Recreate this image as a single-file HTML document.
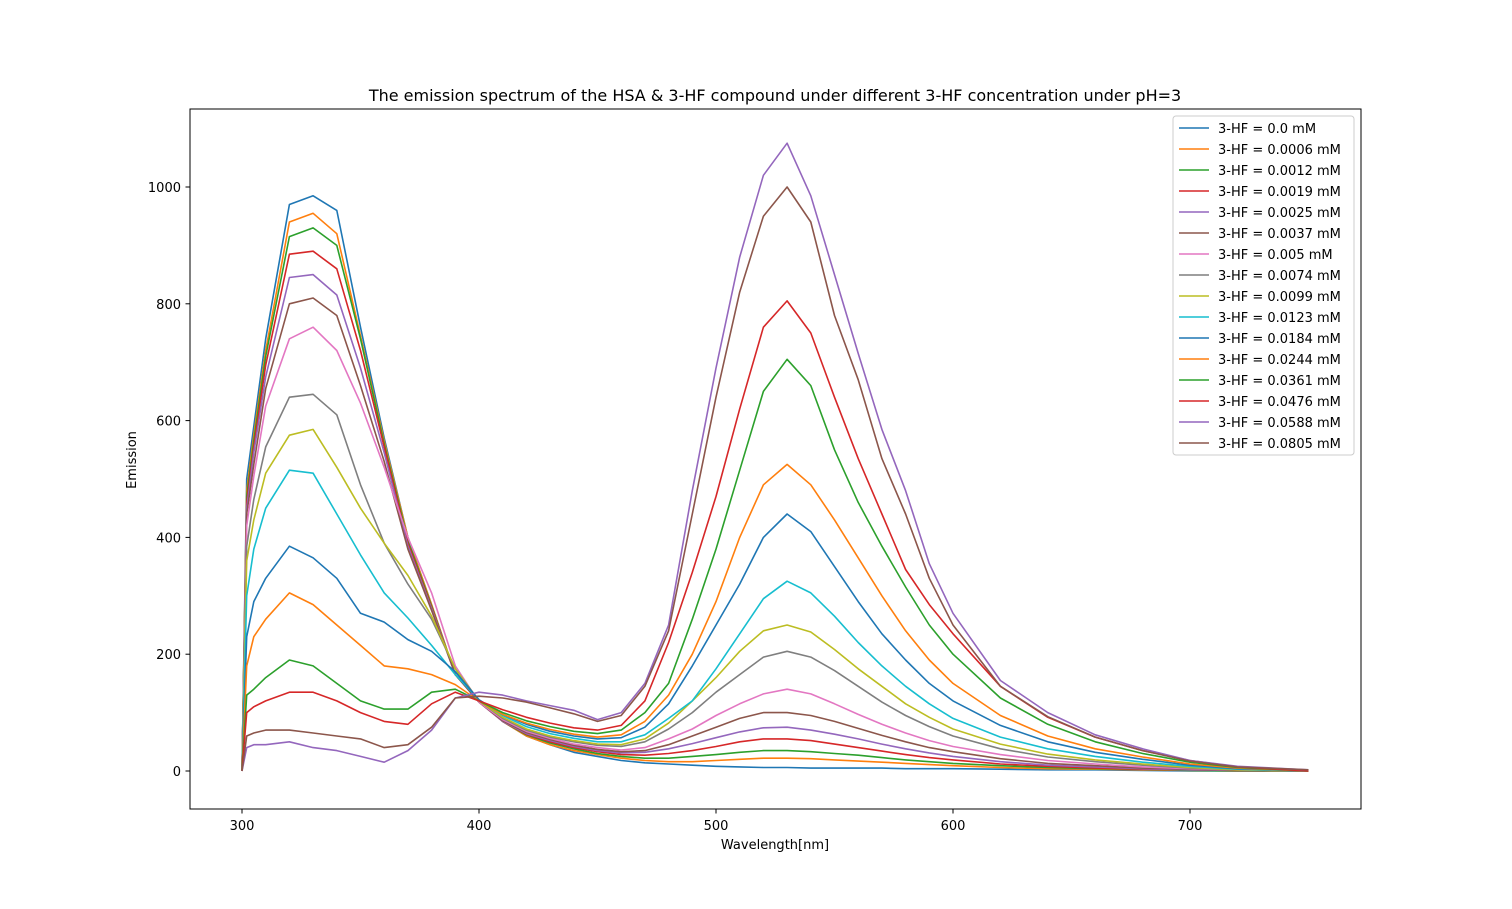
<!DOCTYPE html>
<html><head><meta charset="utf-8"><style>
html,body{margin:0;padding:0;background:#fff;}
svg{display:block;font-family:"DejaVu Sans","Liberation Sans",sans-serif;}
</style></head><body>
<svg id="chart" width="1512" height="909" viewBox="0 0 1512 909" xmlns="http://www.w3.org/2000/svg">
<rect x="0" y="0" width="1512" height="909" fill="#fff"/>
<text x="775" y="101" text-anchor="middle" font-size="16">The emission spectrum of the HSA &amp; 3-HF compound under different 3-HF concentration under pH=3</text>
<text x="775" y="849" text-anchor="middle" font-size="13">Wavelength[nm]</text>
<text transform="translate(136,460) rotate(-90)" text-anchor="middle" font-size="13">Emission</text>
<g id="series"></g>
<g id="axes"></g>
<g id="legend"></g>
<rect x="190" y="109" width="1171" height="700" fill="none" stroke="#000" stroke-width="1"/>
</svg>
<script>
const wavelengths=[300,302,305,310,320,330,340,350,360,370,380,390,400,410,420,430,440,450,460,470,480,490,500,510,520,530,540,550,560,570,580,590,600,620,640,660,680,700,720,750];
const labels=["3-HF = 0.0 mM","3-HF = 0.0006 mM","3-HF = 0.0012 mM","3-HF = 0.0019 mM","3-HF = 0.0025 mM","3-HF = 0.0037 mM","3-HF = 0.005 mM","3-HF = 0.0074 mM","3-HF = 0.0099 mM","3-HF = 0.0123 mM","3-HF = 0.0184 mM","3-HF = 0.0244 mM","3-HF = 0.0361 mM","3-HF = 0.0476 mM","3-HF = 0.0588 mM","3-HF = 0.0805 mM"];
const s0=[0,500,590,740,970,985,960,760,570,400,285,165,120,85,60,45,32,25,18,14,12,10,8,7,6,6,5,5,5,5,4,4,4,3,2,2,1,0,0,0];
const s1=[0,480,575,720,940,955,920,745,565,400,285,165,120,85,60,45,35,28,22,18,16,16,18,20,22,22,21,19,17,15,13,11,9,6,4,3,2,1,0,0];
const s2=[0,470,565,710,915,930,900,740,560,395,282,165,120,85,62,48,38,30,25,22,22,25,28,32,35,35,33,30,27,23,19,16,13,9,6,4,3,1,0,0];
const s3=[0,460,555,695,885,890,860,720,555,390,280,165,118,85,63,50,40,33,28,27,30,35,42,50,55,55,52,46,40,34,28,23,19,12,8,5,3,2,1,0];
const s4=[0,450,545,675,845,850,815,690,545,385,278,165,118,85,64,52,42,35,31,32,38,47,57,67,74,75,70,63,55,46,38,31,25,16,10,7,4,2,1,0];
const s5=[0,440,525,655,800,810,780,660,530,380,275,165,118,86,66,54,44,37,33,35,45,60,75,90,100,100,95,85,73,61,50,40,33,21,13,9,5,3,1,0];
const s6=[0,420,505,625,740,760,720,630,520,400,305,180,118,88,68,56,46,40,36,40,55,72,95,115,132,140,132,115,97,80,65,52,42,28,18,12,7,4,2,0];
const s7=[0,385,465,555,640,645,610,490,390,320,260,175,120,90,70,58,50,44,42,50,72,100,135,165,195,205,195,172,145,118,95,76,60,38,24,16,10,5,2,0];
const s8=[0,360,430,510,575,585,520,450,390,335,265,175,120,92,72,60,52,46,45,55,82,120,160,205,240,250,238,208,175,145,115,92,72,46,29,19,12,6,2,0];
const s9=[0,300,380,450,515,510,440,370,305,262,215,165,122,95,76,64,56,50,50,62,90,120,175,235,295,325,305,265,220,180,145,115,90,58,38,25,15,8,3,0];
const s10=[0,230,290,330,385,365,330,270,255,225,205,170,122,97,80,68,60,55,57,75,115,180,250,320,400,440,410,350,290,235,190,150,120,78,50,32,20,10,4,0];
const s11=[0,180,230,260,305,285,250,215,180,175,165,148,120,97,82,71,63,58,62,85,130,200,290,400,490,525,490,430,365,300,240,190,150,95,60,38,24,12,5,0];
const s12=[0,130,140,160,190,180,150,120,106,106,135,140,120,100,86,76,68,64,70,100,150,260,380,515,650,705,660,550,460,385,315,250,200,125,80,50,30,15,6,0];
const s13=[0,100,110,120,135,135,120,100,85,80,115,135,120,105,92,82,74,70,78,120,220,340,470,620,760,805,750,640,535,440,345,285,235,145,92,58,35,18,7,0];
const s14=[0,40,45,45,50,40,35,25,15,35,70,125,135,130,120,112,104,88,100,150,250,480,690,880,1020,1075,985,850,715,585,480,355,270,155,100,62,38,18,8,2];
const s15=[0,60,65,70,70,65,60,55,40,45,75,125,128,125,118,108,98,85,95,145,240,440,640,820,950,1000,940,780,670,535,440,330,250,145,93,58,35,17,7,2];
const seriesValues=[s0,s1,s2,s3,s4,s5,s6,s7,s8,s9,s10,s11,s12,s13,s14,s15];
const xTicks=[300,400,500,600,700];
const yTicks=[0,200,400,600,800,1000];
const colors=["#1f77b4","#ff7f0e","#2ca02c","#d62728","#9467bd","#8c564b","#e377c2","#7f7f7f","#bcbd22","#17becf"];

const NS="http://www.w3.org/2000/svg";
function xs(v){return 242+(v-300)*2.37;}
function ys(v){return 771-v*0.584;}
function mk(tag,attrs,parent){const e=document.createElementNS(NS,tag);for(const k in attrs)e.setAttribute(k,attrs[k]);parent.appendChild(e);return e;}

const gS=document.getElementById('series');
seriesValues.forEach((vals,i)=>{
  const d=vals.map((v,j)=>(j?'L':'M')+xs(wavelengths[j]).toFixed(1)+' '+ys(v).toFixed(1)).join(' ');
  const p=mk('path',{d:d,fill:'none',stroke:colors[i%10],'stroke-width':1.6,'stroke-linejoin':'round'},gS);
  
  
});

const gA=document.getElementById('axes');
xTicks.forEach(t=>{
  const l=mk('line',{x1:xs(t),x2:xs(t),y1:809,y2:813.5,stroke:'#000'},gA);
  
  
  const tx=mk('text',{x:xs(t),y:830,'text-anchor':'middle','font-size':13},gA);
  tx.textContent=t;
  
  
});
yTicks.forEach(t=>{
  const l=mk('line',{x1:185.5,x2:190,y1:ys(t),y2:ys(t),stroke:'#000'},gA);
  
  
  const tx=mk('text',{x:181,y:ys(t)+5,'text-anchor':'end','font-size':13},gA);
  tx.textContent=t;
  
  
});

const gL=document.getElementById('legend');
const box=mk('rect',{x:1173,y:116,width:181,height:339,rx:3,fill:'#fff','fill-opacity':0.8,stroke:'#ccc'},gL);


labels.forEach((lab,i)=>{
  const y=128+i*21;
  const ln=mk('line',{x1:1179,x2:1209,y1:y,y2:y,stroke:colors[i%10],'stroke-width':1.5},gL);
  
  
  const tx=mk('text',{x:1218,y:y+5,'font-size':13},gL);
  tx.textContent=lab;
  
  
});
</script>
</body></html>
